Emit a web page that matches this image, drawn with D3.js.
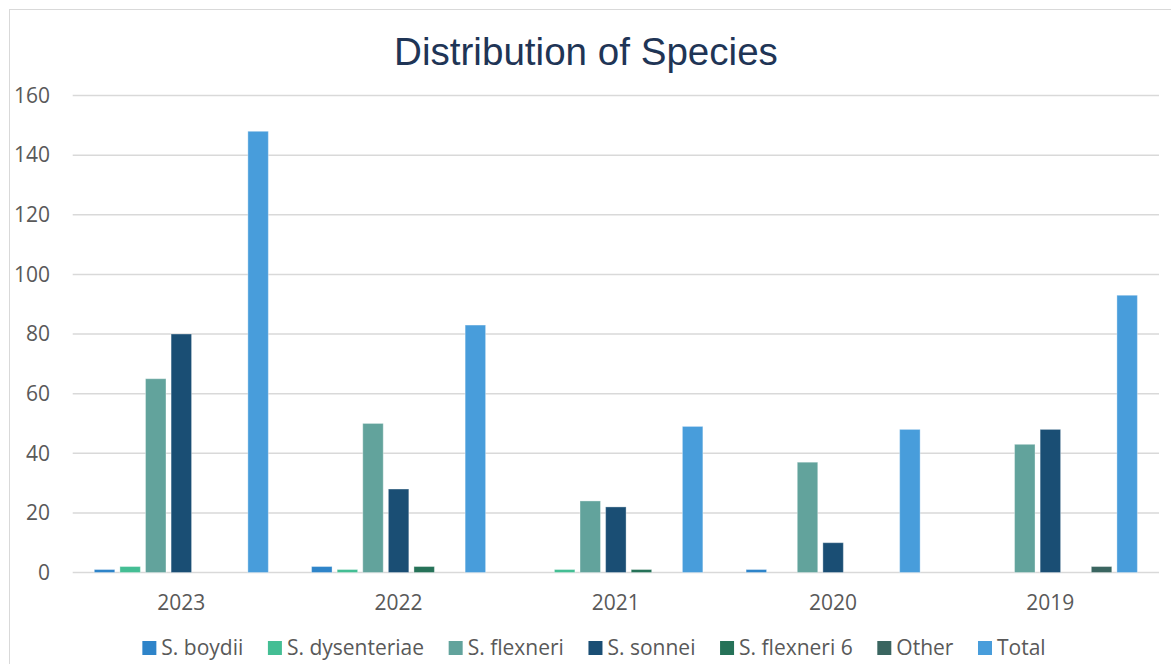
<!DOCTYPE html>
<html>
<head>
<meta charset="utf-8">
<script src="https://cdn.jsdelivr.net/npm/d3@7"></script>
<style>
  html, body { margin: 0; padding: 0; background: #fff; }
  svg { display: block; }
</style>
</head>
<body>
<svg id="chart" width="1171" height="664"></svg>
<script>
const years = ["2023", "2022", "2021", "2020", "2019"];
const seriesNames = ["S. boydii", "S. dysenteriae", "S. flexneri", "S. sonnei", "S. flexneri 6", "Other", "Total"];
const boydii      = [1, 2, 0, 1, 0];
const dysenteriae = [2, 1, 1, 0, 0];
const flexneri    = [65, 50, 24, 37, 43];
const sonnei      = [80, 28, 22, 10, 48];
const flexneri6   = [0, 2, 1, 0, 0];
const other       = [0, 0, 0, 0, 2];
const total       = [148, 83, 49, 48, 93];
const yTicks = [0, 20, 40, 60, 80, 100, 120, 140, 160];
const colors = ["#2E84C9", "#44BE94", "#62A39C", "#1A4E74", "#267258", "#3A6560", "#489DDB"];

const seriesValues = [boydii, dysenteriae, flexneri, sonnei, flexneri6, other, total];
const svg = d3.select("#chart");

// chart border
svg.append("rect").attr("x", 9.5).attr("y", 9.5).attr("width", 1200).attr("height", 700)
  .attr("fill", "#fff").attr("stroke", "#D9D9D9").attr("stroke-width", 1);

const plotLeft = 72.7, plotRight = 1159, plotTop = 95.5, plotBottom = 572.5;
const x0 = d3.scaleBand().domain(years).range([plotLeft, plotRight]).padding(0);
const gw = x0.bandwidth();
const x1 = d3.scaleBand().domain(seriesNames).range([gw * 0.0995, gw * (1 - 0.0995)]).paddingInner(0.2).paddingOuter(0);
const y = d3.scaleLinear().domain([0, 160]).range([plotBottom, plotTop]);

// gridlines
svg.append("g").selectAll("line").data(yTicks).join("line")
  .attr("x1", plotLeft).attr("x2", plotRight)
  .attr("y1", d => y(d)).attr("y2", d => y(d))
  .attr("stroke", "#D9D9D9").attr("stroke-width", 1.5);

// y labels
svg.append("g").selectAll("text").data(yTicks).join("text")
  .attr("x", 50).attr("y", d => y(d)).attr("dy", "0.35em")
  .attr("text-anchor", "end")
  .attr("font-family", "'Open Sans', sans-serif").attr("font-size", 21)
  .attr("fill", "#595959").text(d => d);

// bars
const rows = [];
years.forEach((yr, i) => seriesNames.forEach((s, j) => rows.push({ yr, s, v: seriesValues[j][i], c: colors[j] })));
svg.append("g").selectAll("rect").data(rows.filter(d => d.v > 0)).join("rect")
  .attr("x", d => x0(d.yr) + x1(d.s))
  .attr("width", x1.bandwidth())
  .attr("y", d => y(d.v))
  .attr("height", d => y(0) - y(d.v))
  .attr("fill", d => d.c)
  .attr("stroke", "rgba(255,255,255,0.35)").attr("stroke-width", 1);

// x labels
svg.append("g").selectAll("text").data(years).join("text")
  .attr("x", d => x0(d) + gw / 2).attr("y", 603).attr("dy", "0.35em")
  .attr("text-anchor", "middle")
  .attr("font-family", "'Open Sans', sans-serif").attr("font-size", 21)
  .attr("fill", "#595959").text(d => d);

// title
svg.append("text").attr("x", 586).attr("y", 65)
  .attr("text-anchor", "middle")
  .attr("font-family", "'Liberation Sans', Arial, sans-serif").attr("font-size", 38.6)
  .attr("fill", "#1F3556").text("Distribution of Species");

// legend
const lg = svg.append("g");
const gap = 24.6;
let cx = 0;
seriesNames.forEach((s, j) => {
  const g = lg.append("g").attr("transform", `translate(${cx},0)`);
  g.append("rect").attr("x", 0).attr("y", -7).attr("width", 14).attr("height", 14).attr("fill", colors[j]);
  const t = g.append("text").attr("x", 19).attr("y", 0).attr("dy", "0.35em")
    .attr("font-family", "'Open Sans', sans-serif").attr("font-size", 21)
    .attr("fill", "#595959").text(s);
  cx += 19 + t.node().getComputedTextLength() + gap;
});
const lw = cx - gap;
lg.attr("transform", `translate(${(142 + 1046) / 2 - lw / 2},648)`);
</script>
</body>
</html>
